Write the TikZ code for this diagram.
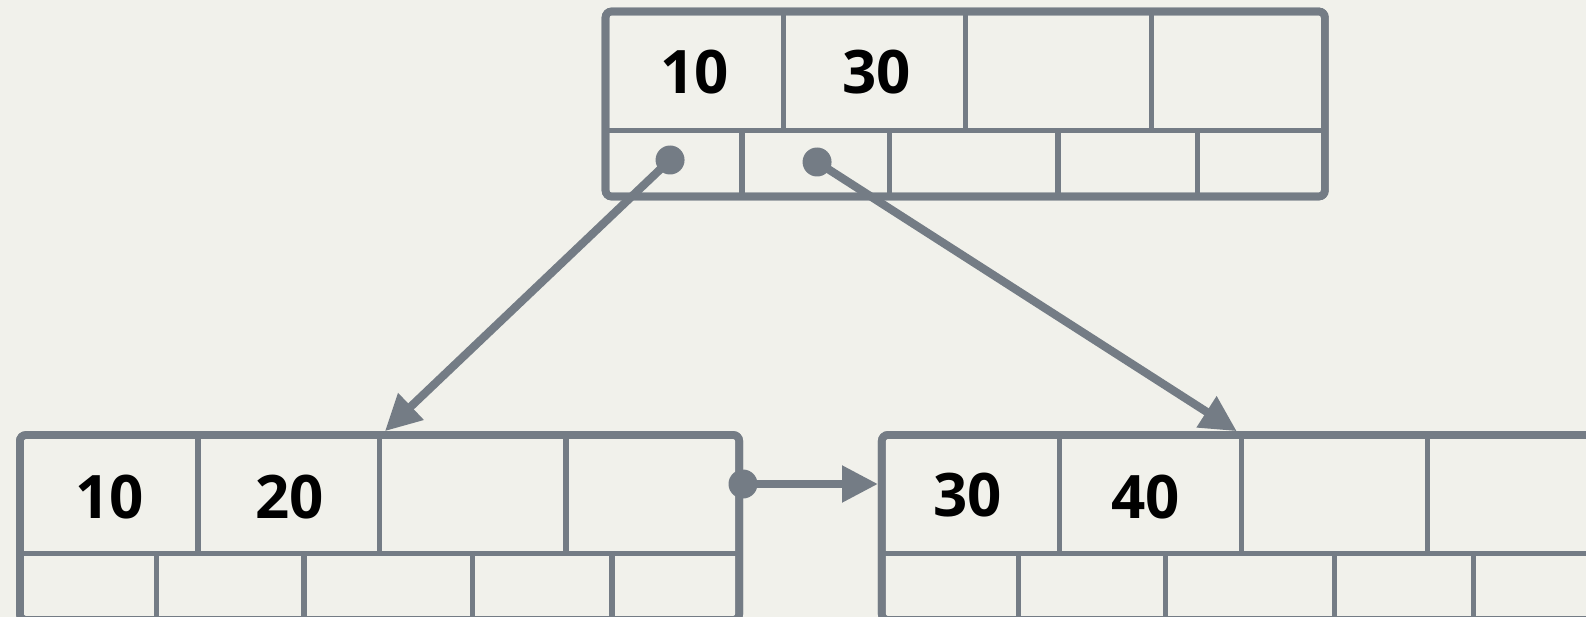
\documentclass[tikz,border=0pt]{standalone}
\usepackage{fontspec}
\setmainfont{Open Sans}
\usetikzlibrary{arrows.meta}
\definecolor{edge}{RGB}{116,124,133}
\definecolor{paper}{RGB}{241,241,235}
\tikzset{
  page/.style={x=1pt,y=-1pt},
  bnode/.style={draw=edge,line width=7.7pt,rounded corners=6pt,outer sep=0pt,
    inner sep=0pt,minimum width=719.3pt,minimum height=185pt},
  cellline/.style={draw=edge,line width=5.3pt},
  keytext/.style={font=\fontsize{60pt}{60pt}\selectfont\bfseries,text=black,inner sep=0pt},
  ptr/.style={circle,fill=edge,minimum size=29pt,inner sep=0pt,outer sep=0pt},
  conn/.style={draw=edge,line width=8.2pt,-{Triangle[length=36pt,width=35pt]}}
}
\begin{document}
\begin{tikzpicture}[page]
  \fill[paper] (0,0) rectangle (1586,617);
  \useasboundingbox (0,0) rectangle (1586,617);
  \clip (0,0) rectangle (1586,617);

  % B+ tree pages: one internal node and two leaves
  \node[bnode] (root)  at (965.2,104.0) {};
  \node[bnode] (leafL) at (379.55,527.5) {};
  \node[bnode] (leafR) at (1241.45,527.5) {};

  % key row and pointer row of every page
  \foreach \n in {root,leafL,leafR}{
    \draw[cellline] ([yshift=-118.8pt]\n.north west) -- ([yshift=-118.8pt]\n.north east);
    \foreach \k in {178,359.6,546}
      \draw[cellline] ([xshift=\k pt]\n.north west) -- ([xshift=\k pt,yshift=-118.8pt]\n.north west);
    \foreach \p in {136.5,284,452.5,592}
      \draw[cellline] ([xshift=\p pt,yshift=-118.8pt]\n.north west) -- ([xshift=\p pt]\n.south west);
  }
  % redraw the page outlines over the cell lines
  \foreach \n in {root,leafL,leafR}
    \draw[draw=edge,line width=7.7pt,rounded corners=6pt]
      (\n.north west) rectangle (\n.south east);

  % keys
  \node[keytext] (r1) at ([xshift=89pt,yshift=-61pt]root.north west) {10};
  \node[keytext] (r2) at ([xshift=271pt,yshift=-61pt]root.north west) {30};
  \node[keytext] (l1) at ([xshift=90pt,yshift=-62pt]leafL.north west) {10};
  \node[keytext] (l2) at ([xshift=270pt,yshift=-62pt]leafL.north west) {20};
  \node[keytext] (q1) at ([xshift=86pt,yshift=-60pt]leafR.north west) {30};
  \node[keytext] (q2) at ([xshift=264pt,yshift=-62pt]leafR.north west) {40};

  % child pointers and sibling link
  \node[ptr] (p1) at ([xshift=64.5pt,yshift=-148.5pt]root.north west) {};
  \node[ptr] (p2) at ([xshift=211.5pt,yshift=-150.5pt]root.north west) {};
  \node[ptr] (p3) at ([xshift=3.8pt,yshift=-49pt]leafL.north east) {};

  \coordinate (inL) at ([xshift=365pt,yshift=3.8pt]leafL.north west);
  \coordinate (inR) at ([xshift=355pt,yshift=3.8pt]leafR.north west);
  \path (leafR.west |- p3) ++(-3.8pt,0pt) coordinate (inS);

  \draw[conn] (p1.center) -- (inL);
  \draw[conn] (p2.center) -- (inR);
  \draw[conn] (p3.center) -- (inS);
\end{tikzpicture}
\end{document}
